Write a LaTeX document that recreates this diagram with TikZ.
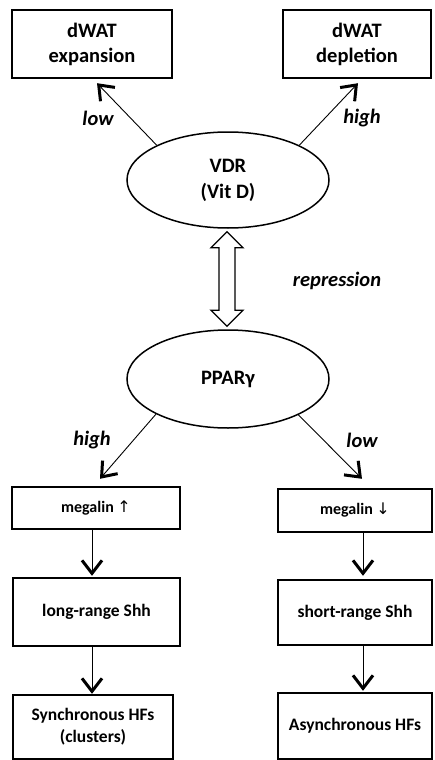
\documentclass[tikz,border=0pt]{standalone}
\usepackage{fontspec}
\setmainfont{Carlito}
\newfontfamily\arrowfont{DejaVu Sans}
\usetikzlibrary{arrows.meta,shapes.geometric,calc}
\begin{document}
\begin{tikzpicture}[x=1pt,y=1pt,
  box/.style={draw,line width=2.4pt,align=center,inner sep=0pt,font=\bfseries\fontsize{17.5}{22}\selectfont},
  smallbox/.style={box,font=\bfseries\fontsize{16}{18}\selectfont},
  bigbox/.style={box,font=\bfseries\fontsize{20.5}{25}\selectfont},
  oval/.style={draw,ellipse,line width=1.5pt,inner sep=0pt,align=center,font=\bfseries\fontsize{20.5}{26}\selectfont},
  conn/.style={line width=0.9pt,-{Straight Barb[length=13pt,width=20pt,line width=3pt]}},
  lbl/.style={font=\bfseries\itshape\fontsize{20.5}{24}\selectfont}]
\useasboundingbox (0,0) rectangle (434,-760);
% nodes
\node[bigbox,minimum width=160,minimum height=68] (exp) at (92,-44) {dWAT\\expansion};
\node[bigbox,minimum width=148,minimum height=68] (dep) at (357,-44) {dWAT\\depletion};
\node[oval,minimum width=202,minimum height=96] (vdr) at (228,-180) {VDR\\(Vit D)};
\node[oval,minimum width=202,minimum height=98] (ppar) at (228,-379) {PPARγ};
\node[smallbox,minimum width=168,minimum height=42] (megup) at (96,-508) {megalin {\arrowfont\mdseries ↑}};
\node[smallbox,minimum width=154,minimum height=43] (megdown) at (355,-510.5) {megalin {\arrowfont\mdseries ↓}};
\node[box,minimum width=167,minimum height=68] (longr) at (96.5,-612) {long-range Shh};
\node[box,minimum width=154,minimum height=65] (shortr) at (355,-612.5) {short-range Shh};
\node[box,minimum width=160,minimum height=64] (sync) at (93,-727) {Synchronous HFs\\(clusters)};
\node[box,minimum width=154,minimum height=66] (async) at (355,-726) {Asynchronous HFs};
% labels
\node[lbl] (l1) at (98,-118) {low};
\node[lbl] (l2) at (362,-118) {high};
\node[lbl] (l3) at (337,-281) {repression};
\node[lbl] (l4) at (92,-440) {high};
\node[lbl] (l5) at (362,-440) {low};
% connectors
\draw[conn] (vdr.154) -- ([xshift=5,yshift=-4]exp.south);
\draw[conn] (vdr.26) -- ([xshift=1,yshift=-4]dep.south);
\draw[conn] (ppar.206) -- ([xshift=4,yshift=7]megup.north);
\draw[conn] (ppar.333) -- ([xshift=7,yshift=9]megdown.north);
\draw[conn] ([xshift=-4]megup.south) -- ([xshift=-4.5,yshift=1]longr.north);
\draw[conn] ([xshift=-4.5]longr.south) -- ([xshift=-1]sync.north);
\draw[conn] ([xshift=8]megdown.south) -- ([xshift=8,yshift=3]shortr.north);
\draw[conn] ([xshift=8]shortr.south) -- ([xshift=8,yshift=1]async.north);
% double arrow
\coordinate (t) at ($(vdr.south)+(-1,-3)$);
\coordinate (b) at ($(ppar.north)+(-1,3)$);
\draw[line width=1.3pt,line join=miter] (t) -- ($(t)+(16,-16)$) -- ($(t)+(8,-16)$) -- ($(b)+(8,16)$) -- ($(b)+(16,16)$) -- (b) -- ($(b)+(-16,16)$) -- ($(b)+(-8,16)$) -- ($(t)+(-8,-16)$) -- ($(t)+(-16,-16)$) -- cycle;
\end{tikzpicture}
\end{document}
